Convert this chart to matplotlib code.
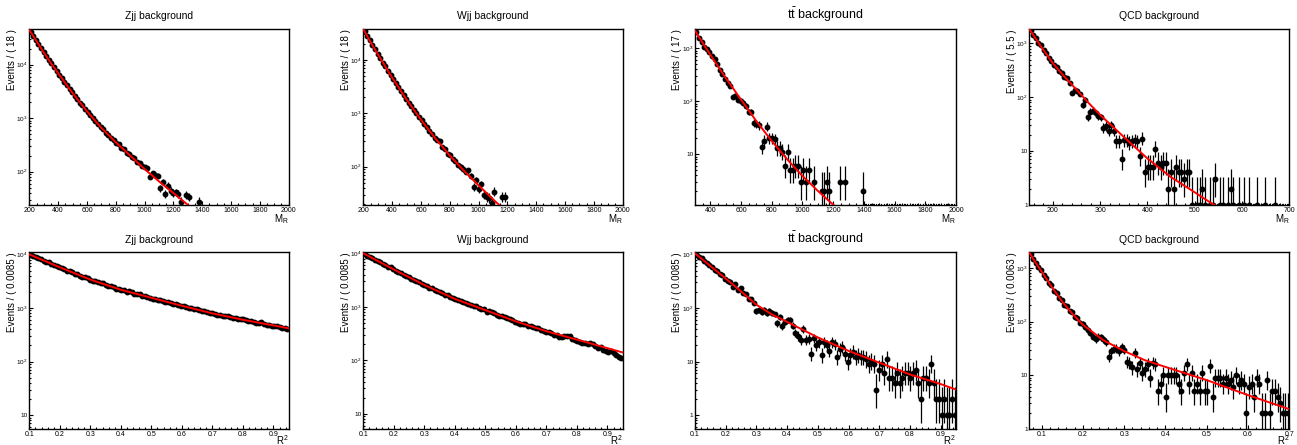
import numpy as np
import matplotlib
matplotlib.use("Agg")
import matplotlib.pyplot as plt
from matplotlib.ticker import MultipleLocator, LogLocator, FuncFormatter, NullFormatter
from matplotlib.transforms import ScaledTranslation

plt.rcParams['font.family'] = ['Liberation Sans', 'DejaVu Sans']
plt.rcParams['mathtext.fontset'] = 'custom'
plt.rcParams['mathtext.rm'] = 'Liberation Sans'
plt.rcParams['mathtext.it'] = 'Liberation Sans:italic'

# --- binned data (events per bin), 100 bins per histogram ---

zjj_mr = [41000, 34100, 29200, 24100, 20600, 16900, 14700, 12300, 10700, 8900,
          7700, 6450, 5620, 4760, 4150, 3490, 3060, 2590, 2300, 1950,
          1740, 1470, 1320, 1130, 1020, 870, 795, 672, 620, 538,
          495, 428, 398, 347, 325, 281, 265, 228, 216, 185,
          178, 150, 143, 129, 124, 115, 81, 93, 87, 84,
          49, 65, 39, 55, 44, 40, 41, 39, 27, 22,
          37, 34, 14, 12, 13, 27, 11, 12, 14, 9,
          10, 8, 7, 9, 5, 6, 4, 5, 3, 4,
          3, 2, 3, 2, 1, 2, 1, 1, 2, 1,
          1, 1, 1, 1, 1, 1, 1, 1, 1, 1]

wjj_mr = [34500, 28100, 23600, 19000, 16000, 12800, 10900, 8950, 7600, 6200,
          5300, 4320, 3730, 3080, 2660, 2190, 1890, 1580, 1380, 1140,
          1010, 835, 740, 618, 555, 462, 415, 345, 315, 300,
          232, 212, 176, 163, 138, 128, 108, 100, 90, 81,
          85, 67, 42, 56, 39, 47, 30, 27, 26, 21,
          34, 15, 13, 27, 27, 11, 9, 8, 10, 6,
          7, 5, 4, 6, 3, 4, 3, 2, 3, 2,
          2, 1, 2, 1, 1, 1, 1, 1, 1, 1,
          1, 1, 1, 1, 1, 1, 1, 1, 1, 1,
          1, 1, 1, 1, 1, 1, 1, 1, 1, 1]

ttbar_mr = [2050, 1590, 1300, 1075, 960, 866, 718, 622, 508, 393,
            330, 262, 221, 197, 119, 128, 107, 103, 93, 81,
            63, 62, 39, 38, 35, 14, 18, 33, 20, 20,
            19, 13, 13, 11, 6, 11, 5, 5, 6, 6,
            3, 5, 3, 5, 1, 3, 1, 1, 2, 2,
            3, 2, 1, 1, 1, 3, 1, 3, 1, 1,
            1, 1, 1, 1, 2, 0, 0, 0, 0, 0,
            0, 0, 0, 0, 0, 0, 0, 0, 0, 0,
            0, 0, 0, 0, 0, 0, 0, 0, 0, 0,
            0, 0, 0, 0, 0, 0, 0, 0, 0, 0]

qcd_mr = [1780, 1420, 1270, 1030, 920, 745, 665, 540, 480, 395,
          365, 305, 285, 240, 225, 185, 119, 137, 128, 114,
          72, 89, 42, 54, 56, 50, 45, 42, 27, 29,
          24, 30, 24, 15, 15, 7, 16, 16, 14, 15,
          16, 15, 8, 17, 4, 5, 5, 5, 11, 6,
          5, 6, 6, 2, 4, 2, 5, 4, 4, 3,
          4, 4, 1, 0, 1, 1, 2, 1, 0, 1,
          1, 3, 0, 1, 1, 0, 1, 2, 1, 0,
          1, 0, 1, 0, 1, 0, 0, 1, 0, 0,
          1, 0, 0, 0, 1, 0, 0, 0, 0, 0]

zjj_r2 = [9820, 9240, 8960, 8400, 8170, 7700, 7290, 7080, 6650, 6470,
          6080, 5720, 5610, 5370, 5010, 4850, 4710, 4400, 4300, 4010,
          3820, 3760, 3570, 3350, 3240, 3190, 3000, 2960, 2870, 2690,
          2580, 2540, 2460, 2310, 2230, 2200, 2150, 2010, 2040, 1960,
          1850, 1800, 1790, 1700, 1690, 1600, 1550, 1480, 1500, 1430,
          1390, 1370, 1310, 1290, 1240, 1190, 1210, 1130, 1100, 1080,
          1030, 1010, 990, 940, 960, 910, 870, 880, 850, 800,
          810, 760, 740, 750, 715, 700, 705, 690, 650, 640,
          620, 625, 610, 600, 580, 560, 545, 525, 535, 540,
          500, 490, 480, 470, 465, 455, 445, 430, 425, 400]

wjj_r2 = [9780, 9100, 8700, 8050, 7620, 7310, 6790, 6400, 6130, 5660,
          5450, 5050, 4760, 4580, 4250, 4010, 3850, 3640, 3390, 3210,
          3080, 2860, 2700, 2610, 2430, 2290, 2240, 2080, 2010, 1870,
          1820, 1700, 1640, 1560, 1450, 1380, 1360, 1300, 1220, 1170,
          1150, 1100, 1040, 1020, 960, 910, 900, 820, 840, 800,
          770, 720, 680, 670, 650, 630, 585, 560, 520, 500,
          490, 470, 480, 445, 440, 415, 410, 400, 370, 350,
          345, 335, 320, 305, 300, 275, 280, 285, 285, 282,
          255, 240, 235, 225, 215, 210, 205, 210, 200, 190,
          172, 178, 158, 150, 142, 152, 135, 126, 118, 112]

ttbar_r2 = [1000, 905, 850, 740, 700, 625, 590, 515, 490, 430,
            410, 345, 320, 310, 250, 280, 218, 235, 190, 180,
            145, 150, 125, 88, 90, 84, 93, 80, 88, 80,
            76, 52, 68, 46, 55, 60, 60, 47, 34, 30,
            25, 41, 25, 26, 14, 27, 20, 23, 13, 23,
            20, 16, 23, 21, 12, 17, 19, 14, 10, 13,
            15, 12, 13, 12, 12, 11, 9, 10, 9, 3,
            7, 9, 6, 11, 5, 5, 4, 6, 4, 5,
            6, 6, 5, 6, 7, 4, 2, 5, 5, 4,
            9, 4, 2, 2, 1, 2, 1, 1, 2, 1]

qcd_r2 = [1800, 1480, 1230, 1020, 900, 740, 655, 520, 470, 375,
          345, 270, 250, 205, 195, 160, 152, 122, 118, 96,
          90, 78, 70, 62, 52, 47, 52, 51, 47, 41,
          22, 28, 31, 31, 28, 33, 30, 18, 17, 14,
          26, 13, 17, 11, 13, 16, 9, 17, 16, 5,
          7, 10, 4, 10, 10, 10, 10, 7, 5, 11,
          16, 7, 11, 5, 7, 5, 11, 5, 5, 15,
          4, 9, 9, 9, 7, 9, 7, 8, 6, 10,
          7, 8, 7, 2, 6, 7, 4, 9, 7, 2,
          2, 8, 2, 5, 5, 4, 3, 2, 2, 2]

# --- fitted pdf, sampled along the curve ---
zjj_mr_fit_x = [200, 225, 250, 300, 350, 400, 500, 600, 700, 800, 900, 1000, 1100, 1200, 1300, 1330]
zjj_mr_fit_y = [44700, 35100, 27500, 17000, 10700, 6920, 2950, 1350, 661, 355, 200, 112, 66, 40, 24, 20.4]
wjj_mr_fit_x = [200, 250, 300, 350, 400, 500, 600, 700, 800, 900, 1000, 1100, 1160]
wjj_mr_fit_y = [38000, 21600, 12900, 7760, 4680, 1820, 759, 339, 162, 83, 44.7, 24.5, 17.4]
ttbar_mr_fit_x = [300, 350, 400, 450, 500, 600, 700, 800, 900, 1000, 1100, 1200, 1250]
ttbar_mr_fit_y = [2140, 1260, 750, 455, 275, 107, 42, 17.8, 8.05, 3.9, 2.04, 1.12, 0.83]
qcd_mr_fit_x = [150, 162.5, 175, 187.5, 200, 225, 250, 275, 300, 350, 400, 450, 500, 540, 560]
qcd_mr_fit_y = [1860, 1270, 870, 610, 427, 237, 138, 79, 46.8, 18.2, 7.24, 3.24, 1.70, 1.0, 0.79]
zjj_r2_fit_x = [0.1, 0.15, 0.2, 0.3, 0.4, 0.5, 0.6, 0.7, 0.8, 0.9, 0.95]
zjj_r2_fit_y = [10000, 7590, 5750, 3390, 2190, 1550, 1100, 794, 603, 473, 417]
wjj_r2_fit_x = [0.1, 0.15, 0.2, 0.3, 0.4, 0.5, 0.6, 0.7, 0.8, 0.9, 0.95]
wjj_r2_fit_y = [10000, 7080, 5010, 2570, 1410, 871, 537, 351, 245, 170, 141]
ttbar_r2_fit_x = [0.1, 0.15, 0.2, 0.25, 0.3, 0.35, 0.4, 0.5, 0.6, 0.7, 0.8, 0.9, 0.95]
ttbar_r2_fit_y = [1047, 610, 355, 204, 115, 76, 55, 28.2, 15.8, 9.55, 5.75, 3.8, 3.0]
qcd_r2_fit_x = [0.07, 0.085, 0.1, 0.125, 0.15, 0.175, 0.2, 0.25, 0.3, 0.35, 0.4, 0.5, 0.6, 0.7]
qcd_r2_fit_y = [1930, 1260, 851, 437, 234, 138, 87, 44.7, 28.2, 19.1, 14.3, 8.13, 4.27, 2.34]


def poisson_errors(n):
    """ approximate 68% Poisson interval (Gehrels) """
    n = np.asarray(n, dtype=float)
    up = np.sqrt(n + 0.75) + 1.0
    lo = np.zeros_like(n)
    pos = n > 0
    lo[pos] = n[pos] - n[pos] * (1.0 - 1.0 / (9.0 * n[pos]) - 1.0 / (3.0 * np.sqrt(n[pos]))) ** 3
    return lo, up


def decade_label(v, pos):
    if abs(v - 1) < 1e-6:
        return "1"
    if abs(v - 10) < 1e-6:
        return "10"
    return r"$10^{%d}$" % int(round(np.log10(v)))


def draw_panel(ax, counts, xlo, xhi, fitx, fity, ylim, title, xlabel, ylabel, xmajor, xminor, xfmt,
               titlesize=7.5, xlab_off=-14.5):
    n = np.asarray(counts, dtype=float)
    edges = np.linspace(xlo, xhi, len(n) + 1)
    centers = 0.5 * (edges[1:] + edges[:-1])
    halfw = 0.5 * (edges[1] - edges[0])
    lo, up = poisson_errors(n)

    # points inside the frame
    vis = n >= ylim[0] - 1e-9
    ax.errorbar(centers[vis], n[vis], xerr=halfw, yerr=[lo[vis], up[vis]], fmt="o", ms=3.2,
                color="black", ecolor="black", elinewidth=0.9, capsize=0, zorder=3)
    # empty bins end up squashed on the bottom of the frame
    zero = n == 0
    if zero.any():
        ax.errorbar(centers[zero], np.full(zero.sum(), ylim[0]), xerr=halfw * 0.55, fmt="none",
                    ecolor="black", elinewidth=1.6, capsize=0, zorder=3)

    ax.plot(fitx, fity, color="red", lw=1.4, zorder=4)

    ax.set_yscale("log")
    ax.set_xlim(xlo, xhi)
    ax.set_ylim(*ylim)

    ax.xaxis.set_major_locator(MultipleLocator(xmajor))
    ax.xaxis.set_minor_locator(MultipleLocator(xminor))
    ax.xaxis.set_major_formatter(FuncFormatter(lambda v, p: xfmt % v))
    ax.yaxis.set_major_locator(LogLocator(base=10))
    ax.yaxis.set_minor_locator(LogLocator(base=10, subs=np.arange(2, 10)))
    ax.yaxis.set_major_formatter(FuncFormatter(decade_label))
    ax.yaxis.set_minor_formatter(NullFormatter())

    ax.tick_params(which="both", direction="in", top=False, right=False, labelsize=5.0, pad=1.5)
    ax.tick_params(axis="y", labelsize=4.6, pad=1.2)
    ax.tick_params(which="major", length=3.2, width=0.8)
    ax.tick_params(which="minor", length=1.7, width=0.8)
    for s in ax.spines.values():
        s.set_linewidth(1.0)

    ax.set_title(title, fontsize=titlesize, pad=7)
    fig = ax.figure
    ax.text(0.0, 1.0, ylabel, rotation=90, ha="center", va="top", fontsize=7,
            transform=ax.transAxes + ScaledTranslation(-17.5 / 100.0, 0, fig.dpi_scale_trans))
    ax.text(1.0, 0.0, xlabel, ha="right", va="center", fontsize=7,
            transform=ax.transAxes + ScaledTranslation(0, xlab_off / 100.0, fig.dpi_scale_trans))


W, H = 1297.0, 445.0
fig = plt.figure(figsize=(W / 100, H / 100), dpi=100)

col_l = [29.3, 363.3, 695.0, 1029.3]
col_r = [288.7, 622.7, 956.0, 1289.3]
row_tb = [(29.0, 204.7), (252.3, 429.0)]

axes = []
for r in range(2):
    for c in range(4):
        t, b = row_tb[r]
        axes.append(fig.add_axes([col_l[c] / W, 1 - b / H, (col_r[c] - col_l[c]) / W, (b - t) / H]))

mr = r"$\mathrm{M_{R}}$"
r2 = r"$\mathrm{R^{2}}$"
ttt = r"$\mathrm{t\bar{t}}$ background"

draw_panel(axes[0], zjj_mr, 200, 2000, zjj_mr_fit_x, zjj_mr_fit_y, (24.2, 46400),
           "Zjj background", mr, "Events / ( 18 )", 200, 50, "%d")
draw_panel(axes[1], wjj_mr, 200, 2000, wjj_mr_fit_x, wjj_mr_fit_y, (19.4, 38000),
           "Wjj background", mr, "Events / ( 18 )", 200, 50, "%d")
draw_panel(axes[2], ttbar_mr, 300, 2000, ttbar_mr_fit_x, ttbar_mr_fit_y, (1.12, 2300),
           ttt, mr, "Events / ( 17 )", 200, 50, "%d", titlesize=9)
draw_panel(axes[3], qcd_mr, 150, 700, qcd_mr_fit_x, qcd_mr_fit_y, (1.0, 1860),
           "QCD background", mr, "Events / ( 5.5 )", 100, 20, "%d")
draw_panel(axes[4], zjj_r2, 0.1, 0.95, zjj_r2_fit_x, zjj_r2_fit_y, (5.5, 10960),
           "Zjj background", r2, "Events / ( 0.0085 )", 0.1, 0.02, "%.1f", xlab_off=-11.5)
draw_panel(axes[5], wjj_r2, 0.1, 0.95, wjj_r2_fit_x, wjj_r2_fit_y, (5.25, 10470),
           "Wjj background", r2, "Events / ( 0.0085 )", 0.1, 0.02, "%.1f", xlab_off=-11.5)
draw_panel(axes[6], ttbar_r2, 0.1, 0.95, ttbar_r2_fit_x, ttbar_r2_fit_y, (0.55, 1096),
           ttt, r2, "Events / ( 0.0085 )", 0.1, 0.02, "%.1f", titlesize=9, xlab_off=-11.5)
draw_panel(axes[7], qcd_r2, 0.07, 0.7, qcd_r2_fit_x, qcd_r2_fit_y, (1.0, 1950),
           "QCD background", r2, "Events / ( 0.0063 )", 0.1, 0.02, "%.1f", xlab_off=-11.5)

fig.savefig("out.png", dpi=100)
